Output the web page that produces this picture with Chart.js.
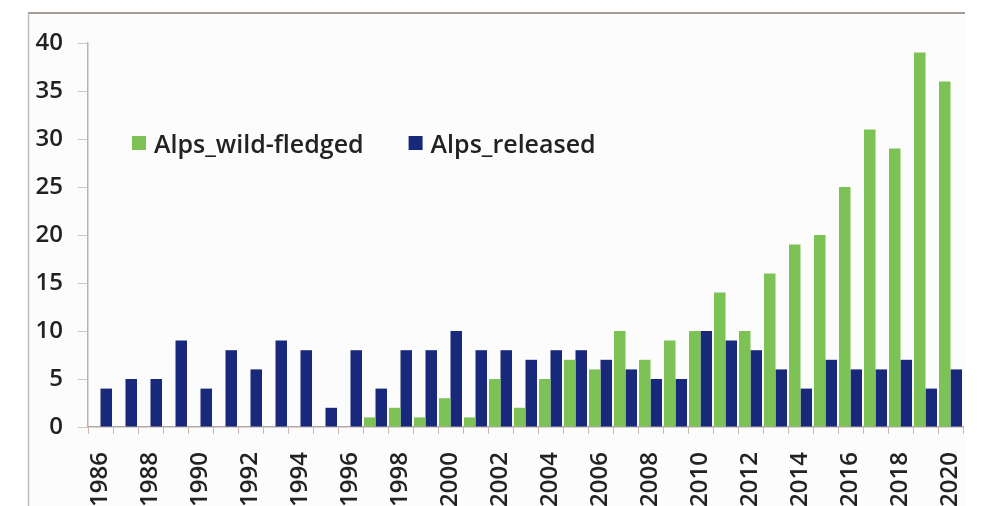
<!DOCTYPE html>
<html>
<head>
<meta charset="utf-8">
<title>Alps bearded vulture fledglings</title>
<script src="https://cdn.jsdelivr.net/npm/chart.js@4.4.0/dist/chart.umd.min.js"></script>
<style>
  html, body { margin: 0; padding: 0; background: #ffffff; }
  #wrap { width: 989px; height: 506px; }
</style>
</head>
<body>
<div id="wrap"><canvas id="chart" width="989" height="506"></canvas></div>
<script>
// values
const years = [
  "1986", "1987", "1988", "1989", "1990", "1991", "1992", "1993", "1994", "1995",
  "1996", "1997", "1998", "1999", "2000", "2001", "2002", "2003", "2004", "2005",
  "2006", "2007", "2008", "2009", "2010", "2011", "2012", "2013", "2014", "2015",
  "2016", "2017", "2018", "2019", "2020"
];
const wildFledged = [
  0, 0, 0, 0, 0, 0, 0, 0, 0, 0,
  0, 1, 2, 1, 3, 1, 5, 2, 5, 7,
  6, 10, 7, 9, 10, 14, 10, 16, 19, 20,
  25, 31, 29, 39, 36
];
const released = [
  4, 5, 5, 9, 4, 8, 6, 9, 8, 2,
  8, 4, 8, 8, 10, 8, 8, 7, 8, 8,
  7, 6, 5, 5, 10, 9, 8, 6, 4, 7,
  6, 6, 7, 4, 6
];
const seriesNames = ["Alps_wild-fledged", "Alps_released"];
const seriesColors = ["#7cc254", "#18287a"];

const FONT = "'Open Sans', 'Liberation Sans', sans-serif";
const TEXT_COLOR = "#222222";

// light panel with a grey top and left edge, like the cropped Excel frame
const framePlugin = {
  id: "frame",
  beforeDraw(chart) {
    const ctx = chart.ctx;
    ctx.save();
    ctx.fillStyle = "#fcfcfc";
    ctx.fillRect(28, 13, 937, 493);
    ctx.strokeStyle = "#a39b96";
    ctx.lineWidth = 2;
    ctx.beginPath();
    ctx.moveTo(28, 13);
    ctx.lineTo(965, 13);
    ctx.stroke();
    ctx.strokeStyle = "#c4bcb8";
    ctx.lineWidth = 1.5;
    ctx.beginPath();
    ctx.moveTo(28.5, 13);
    ctx.lineTo(28.5, 506);
    ctx.stroke();
    ctx.restore();
  }
};

// legend drawn inside the plot area
const insideLegend = {
  id: "insideLegend",
  afterDraw(chart) {
    const ctx = chart.ctx;
    ctx.save();
    ctx.font = "600 25px " + FONT;
    ctx.textBaseline = "alphabetic";
    let x = 132;
    chart.data.datasets.forEach((ds) => {
      ctx.fillStyle = ds.backgroundColor;
      ctx.fillRect(x, 136, 14, 14);
      ctx.fillStyle = TEXT_COLOR;
      ctx.fillText(ds.label, x + 22, 153);
      x += 22 + ctx.measureText(ds.label).width + 45;
    });
    ctx.restore();
  }
};

new Chart(document.getElementById("chart"), {
  type: "bar",
  data: {
    labels: years,
    datasets: [
      {
        label: seriesNames[0],
        data: wildFledged,
        backgroundColor: seriesColors[0],
        categoryPercentage: 0.92,
        barPercentage: 1.0
      },
      {
        label: seriesNames[1],
        data: released,
        backgroundColor: seriesColors[1],
        categoryPercentage: 0.92,
        barPercentage: 1.0
      }
    ]
  },
  options: {
    responsive: false,
    animation: false,
    devicePixelRatio: 1,
    layout: { padding: { left: 0, right: 26, top: 43, bottom: 0 } },
    plugins: {
      legend: { display: false },
      tooltip: { enabled: false }
    },
    scales: {
      x: {
        afterFit: (scale) => {
          scale.height = 79;
          scale.paddingLeft = 0;
          scale.paddingRight = 0;
        },
        grid: {
          offset: true,
          drawOnChartArea: false,
          drawTicks: true,
          tickLength: 7,
          tickColor: "#d2b6ae"
        },
        border: { display: true, color: "#b3a9a3", width: 1.5 },
        ticks: {
          autoSkip: false,
          minRotation: 90,
          maxRotation: 90,
          padding: 18,
          color: TEXT_COLOR,
          font: { family: FONT, size: 24, weight: "600" },
          // only every other year is labelled
          callback: function (value, index) {
            return index % 2 === 0 ? this.getLabelForValue(value) : "";
          }
        }
      },
      y: {
        min: 0,
        max: 40,
        afterFit: (scale) => { scale.width = 88; },
        grid: {
          drawOnChartArea: false,
          drawTicks: true,
          tickLength: 10,
          tickColor: "#cfc6c1"
        },
        border: { display: true, color: "#bdb3ad", width: 1.5 },
        ticks: {
          stepSize: 5,
          padding: 15,
          color: TEXT_COLOR,
          font: { family: FONT, size: 24, weight: "600" }
        }
      }
    }
  },
  plugins: [framePlugin, insideLegend]
});
</script>
</body>
</html>
